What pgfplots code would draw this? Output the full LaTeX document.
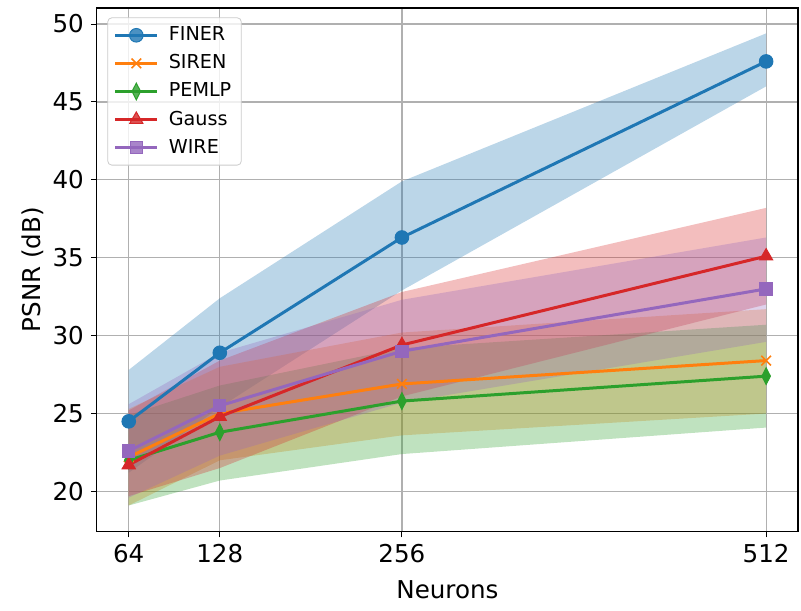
\documentclass[border=0pt]{standalone}
\usepackage{fontspec}
\setmainfont{DejaVu Sans}
\usepackage{pgfplots}
\pgfplotsset{compat=1.18}

\definecolor{tabblue}{HTML}{1F77B4}
\definecolor{taborange}{HTML}{FF7F0E}
\definecolor{tabgreen}{HTML}{2CA02C}
\definecolor{tabred}{HTML}{D62728}
\definecolor{tabpurple}{HTML}{9467BD}

\begin{document}
\begin{tikzpicture}
\begin{axis}[
  scale only axis,
  width=351pt, height=262pt,
  xmin=41.6, xmax=534.4, ymin=17.44, ymax=51.03,
  xtick={64,128,256,512},
  ytick={20,25,30,35,40,45,50},
  xtick pos=bottom, ytick pos=left,
  /pgf/number format/assume math mode=true,
  tick label style={font=\fontsize{12.3}{14}\selectfont},
  label style={font=\fontsize{12.3}{14}\selectfont},
  xlabel={Neurons}, ylabel={PSNR (dB)},
  ylabel style={yshift=-2.2pt},
  xlabel style={yshift=-2.2pt},
  tick align=outside, major tick length=3pt,
  tick style={black, line width=0.5pt},
  axis line style={line width=0.6pt},
  grid=major, grid style={color=black!31, line width=0.6pt},
  legend style={font=\fontsize{9.6}{11.5}\selectfont, at={(0.015,0.982)}, anchor=north west,
    draw=black!20, rounded corners=2pt, fill=white, fill opacity=0.8, text opacity=1,
    row sep=1.5pt, column sep=3pt, inner xsep=3pt, inner ysep=2.5pt},
  legend cell align=left,
  legend image code/.code={
    \draw[mark repeat=2,mark phase=2] plot coordinates {(0cm,0cm) (0.37cm,0cm) (0.74cm,0cm)};
  },
]
% shaded ranges
\addplot[draw=none, fill=tabblue, fill opacity=0.3, forget plot] coordinates {
(64,27.8) (128,32.4) (256,39.9) (512,49.4) (512,46.0) (256,32.9) (128,25.4) (64,21.2)} -- cycle;
\addplot[draw=none, fill=taborange, fill opacity=0.3, forget plot] coordinates {
(64,25.3) (128,28.0) (256,30.2) (512,31.7) (512,25.0) (256,23.6) (128,22.0) (64,19.1)} -- cycle;
\addplot[draw=none, fill=tabgreen, fill opacity=0.3, forget plot] coordinates {
(64,24.9) (128,26.8) (256,29.2) (512,30.7) (512,24.1) (256,22.4) (128,20.7) (64,19.1)} -- cycle;
\addplot[draw=none, fill=tabred, fill opacity=0.3, forget plot] coordinates {
(64,25.2) (128,28.4) (256,32.8) (512,38.2) (512,32.0) (256,26.1) (128,21.5) (64,19.7)} -- cycle;
\addplot[draw=none, fill=tabpurple, fill opacity=0.3, forget plot] coordinates {
(64,25.6) (128,28.9) (256,32.3) (512,36.3) (512,29.6) (256,25.7) (128,22.3) (64,19.6)} -- cycle;
% mean curves
\addplot[tabblue, line width=1.5pt, mark=*, mark size=3.4pt, mark options={line width=0.5pt}] coordinates {
(64,24.5) (128,28.9) (256,36.3) (512,47.6)};
\addlegendentry{FINER}
\addplot[taborange, line width=1.5pt, mark=x, mark size=3.4pt, mark options={line width=0.8pt}] coordinates {
(64,22.2) (128,25.0) (256,26.9) (512,28.4)};
\addlegendentry{SIREN}
\addplot[tabgreen, line width=1.5pt, mark=diamond*, mark size=4.2pt, mark options={xscale=0.68, line width=0.5pt}] coordinates {
(64,22.0) (128,23.8) (256,25.8) (512,27.4)};
\addlegendentry{PEMLP}
\addplot[tabred, line width=1.5pt, mark=triangle*, mark size=3.8pt, mark options={line width=0.5pt}] coordinates {
(64,21.7) (128,24.8) (256,29.4) (512,35.1)};
\addlegendentry{Gauss}
\addplot[tabpurple, line width=1.5pt, mark=square*, mark size=3.1pt, mark options={line width=0.5pt}] coordinates {
(64,22.6) (128,25.5) (256,29.0) (512,33.0)};
\addlegendentry{WIRE}
\end{axis}
\path (current axis.south west) ++(-48.5pt,-39.5pt) (current axis.north east) ++(1.5pt,4pt);
\end{tikzpicture}
\end{document}
